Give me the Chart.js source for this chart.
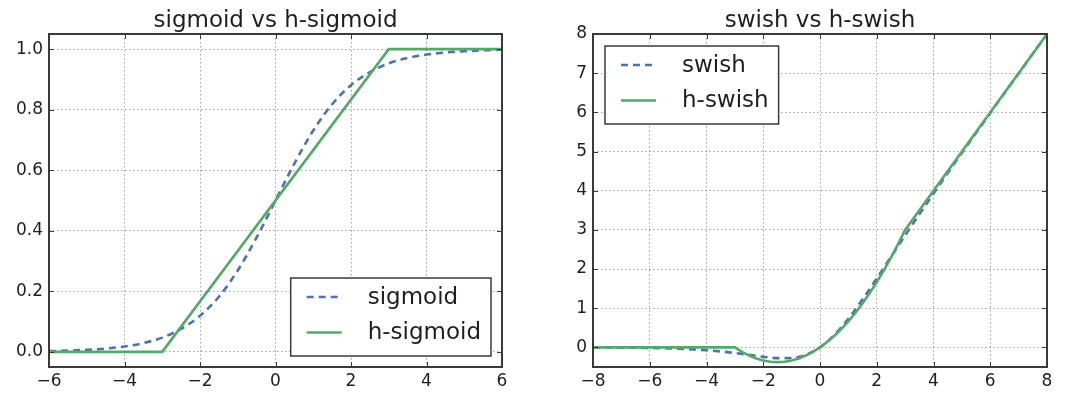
<!DOCTYPE html>
<html><head><meta charset="utf-8">
<script src="https://cdn.jsdelivr.net/npm/chart.js@4.4.0/dist/chart.umd.min.js"></script>
<style>
html,body{margin:0;padding:0;background:#fff;}
#wrap{position:relative;width:1080px;height:402px;background:#fff;}
.c{position:absolute;top:0;width:540px;height:402px;}
</style></head><body>
<div id="wrap">
<div class="c" style="left:0"><canvas id="c1" width="540" height="402"></canvas></div>
<div class="c" style="left:540px"><canvas id="c2" width="540" height="402"></canvas></div>
</div>
<script>
// ---- Left panel: sigmoid vs h-sigmoid ----
const sigTitle = 'sigmoid vs h-sigmoid';
const sigX = [-6,-5.5,-5,-4.5,-4,-3.5,-3,-2.5,-2,-1.5,-1,-0.5,0,0.5,1,1.5,2,2.5,3,3.5,4,4.5,5,5.5,6];
const sigY = [0.0025,0.0041,0.0067,0.011,0.018,0.029,0.047,0.076,0.119,0.182,0.269,0.378,0.5,0.622,0.731,0.818,0.881,0.924,0.953,0.971,0.982,0.989,0.993,0.996,0.998];
const hsigX = [-6,-3,3,6];
const hsigY = [0,0,1,1];
const sigXTicks = [-6,-4,-2,0,2,4,6];
const sigYTicks = [0.0,0.2,0.4,0.6,0.8,1.0];

// ---- Right panel: swish vs h-swish ----
const swTitle = 'swish vs h-swish';
const swX = [-8,-7.5,-7,-6.5,-6,-5.5,-5,-4.5,-4,-3.5,-3,-2.5,-2,-1.5,-1,-0.5,0,0.5,1,1.5,2,2.5,3,3.5,4,4.5,5,5.5,6,6.5,7,7.5,8];
const swY = [-0.0027,-0.0041,-0.0064,-0.0098,-0.0148,-0.0224,-0.0335,-0.0495,-0.0719,-0.1027,-0.1423,-0.1896,-0.2384,-0.2736,-0.2689,-0.1888,0,0.3112,0.7311,1.2264,1.7616,2.3104,2.8577,3.3973,3.9281,4.4505,4.9665,5.4776,5.9852,6.4902,6.9936,7.4959,7.9973];
const hswX = [-8,-3,-2.75,-2.5,-2.25,-2,-1.75,-1.5,-1.25,-1,-0.75,-0.5,-0.25,0,0.25,0.5,0.75,1,1.25,1.5,1.75,2,2.25,2.5,2.75,3,8];
const hswY = [0,0,-0.1146,-0.2083,-0.2813,-0.3333,-0.3646,-0.375,-0.3646,-0.3333,-0.2813,-0.2083,-0.1146,0,0.1354,0.2917,0.4688,0.6667,0.8854,1.125,1.3854,1.6667,1.9688,2.2917,2.6354,3,8];
const swXTicks = [-8,-6,-4,-2,0,2,4,6,8];
const swYTicks = [0,1,2,3,4,5,6,7,8];

const BLUE = '#4c72b0', GREEN = '#55a868', INK = '#1e1e1e', FRAME = '#3a3a3a';
const FONT = 'DejaVu Sans';

function pts(xs, ys){ return xs.map((x,i)=>({x:x, y:ys[i]})); }
function fmtMinus(s){ return String(s).replace('-', '\u2212'); }

const decorPlugin = {
  id: 'decor',
  afterDraw(chart, args, opts) {
    const ctx = chart.ctx, a = chart.chartArea;
    const sx = chart.scales.x, sy = chart.scales.y;
    ctx.save();
    // inward ticks on all four sides
    ctx.strokeStyle = FRAME; ctx.lineWidth = 1;
    ctx.beginPath();
    sx.ticks.forEach(t => {
      const p = Math.round(sx.getPixelForValue(t.value)) + 0.5;
      ctx.moveTo(p, a.bottom); ctx.lineTo(p, a.bottom - 5);
      ctx.moveTo(p, a.top); ctx.lineTo(p, a.top + 5);
    });
    sy.ticks.forEach(t => {
      const p = Math.round(sy.getPixelForValue(t.value)) + 0.5;
      ctx.moveTo(a.left, p); ctx.lineTo(a.left + 5, p);
      ctx.moveTo(a.right, p); ctx.lineTo(a.right - 5, p);
    });
    ctx.stroke();
    // frame
    ctx.lineWidth = 2;
    ctx.strokeRect(a.left, a.top, a.right - a.left, a.bottom - a.top);
    // title
    ctx.fillStyle = INK;
    ctx.font = '23px "' + FONT + '"';
    ctx.textAlign = 'center'; ctx.textBaseline = 'alphabetic';
    ctx.fillText(opts.title, (a.left + a.right) / 2, 27);
    // legend
    ctx.font = '23px "' + FONT + '"';
    const ds = chart.data.datasets;
    let tw = 0;
    ds.forEach(d => { tw = Math.max(tw, ctx.measureText(d.label).width); });
    const bw = 77 + tw + 10, bh = 78;
    let bx, by;
    if (opts.legendPos === 'lower right') { bx = a.right - 11 - bw; by = a.bottom - 11 - bh; }
    else { bx = a.left + 12; by = a.top + 12; }
    ctx.fillStyle = '#ffffff';
    ctx.fillRect(bx, by, bw, bh);
    ctx.strokeStyle = FRAME; ctx.lineWidth = 1.5;
    ctx.strokeRect(bx, by, bw, bh);
    ds.forEach((d, i) => {
      const ry = by + 19 + i * 35.5;
      ctx.save();
      ctx.strokeStyle = d.borderColor; ctx.lineWidth = d.borderWidth;
      ctx.setLineDash(d.borderDash || []);
      ctx.beginPath(); ctx.moveTo(bx + 16, ry); ctx.lineTo(bx + 51, ry); ctx.stroke();
      ctx.restore();
      ctx.fillStyle = INK; ctx.textAlign = 'left'; ctx.textBaseline = 'middle';
      ctx.fillText(d.label, bx + 77, ry + 1);
    });
    ctx.restore();
  }
};

function axisCfg(min, max, tickVals, fmt, isX, fitSize, pad) {
  return {
    type: 'linear', min: min, max: max,
    afterFit: s => { if (isX) s.height = fitSize; else s.width = fitSize; },
    afterBuildTicks: s => { s.ticks = tickVals.map(v => ({value: v})); },
    ticks: {
      padding: pad, color: INK, autoSkip: false, maxRotation: 0, includeBounds: false,
      font: {family: FONT, size: 17},
      callback: v => fmt(v)
    },
    grid: {color: '#a0a0a0', lineWidth: 1, drawTicks: false},
    border: {display: false, dash: [1.5, 2.5]}
  };
}

function make(id, title, legendPos, datasets, x, y, yWidth, padRight) {
  return new Chart(document.getElementById(id), {
    type: 'line',
    data: {datasets: datasets},
    options: {
      responsive: false, animation: false,
      layout: {padding: {top: 34, right: padRight, left: 0, bottom: 0}},
      elements: {point: {radius: 0, hoverRadius: 0}},
      plugins: {legend: {display: false}, tooltip: {enabled: false}, title: {display: false},
                decor: {title: title, legendPos: legendPos}},
      scales: {
        x: axisCfg(x.min, x.max, x.ticks, v => fmtMinus(v), true, 35, 4),
        y: axisCfg(y.min, y.max, y.ticks, y.fmt, false, yWidth, 6)
      }
    },
    plugins: [decorPlugin]
  });
}

make('c1', sigTitle, 'lower right', [
  {label: 'sigmoid', data: pts(sigX, sigY), borderColor: BLUE, borderWidth: 2.6, borderDash: [7, 5], cubicInterpolationMode: 'monotone', fill: false, order: 1},
  {label: 'h-sigmoid', data: pts(hsigX, hsigY), borderColor: GREEN, borderWidth: 2.6, tension: 0, fill: false, order: 0}
], {min: -6, max: 6, ticks: sigXTicks}, {min: -0.05, max: 1.05, ticks: sigYTicks, fmt: v => v.toFixed(1)}, 49, 38);

make('c2', swTitle, 'upper left', [
  {label: 'swish', data: pts(swX, swY), borderColor: BLUE, borderWidth: 2.6, borderDash: [7, 5], cubicInterpolationMode: 'monotone', fill: false, order: 1},
  {label: 'h-swish', data: pts(hswX, hswY), borderColor: GREEN, borderWidth: 2.6, tension: 0, fill: false, order: 0}
], {min: -8, max: 8, ticks: swXTicks}, {min: -0.5, max: 8, ticks: swYTicks, fmt: v => fmtMinus(v)}, 53, 33);
</script>
</body></html>
